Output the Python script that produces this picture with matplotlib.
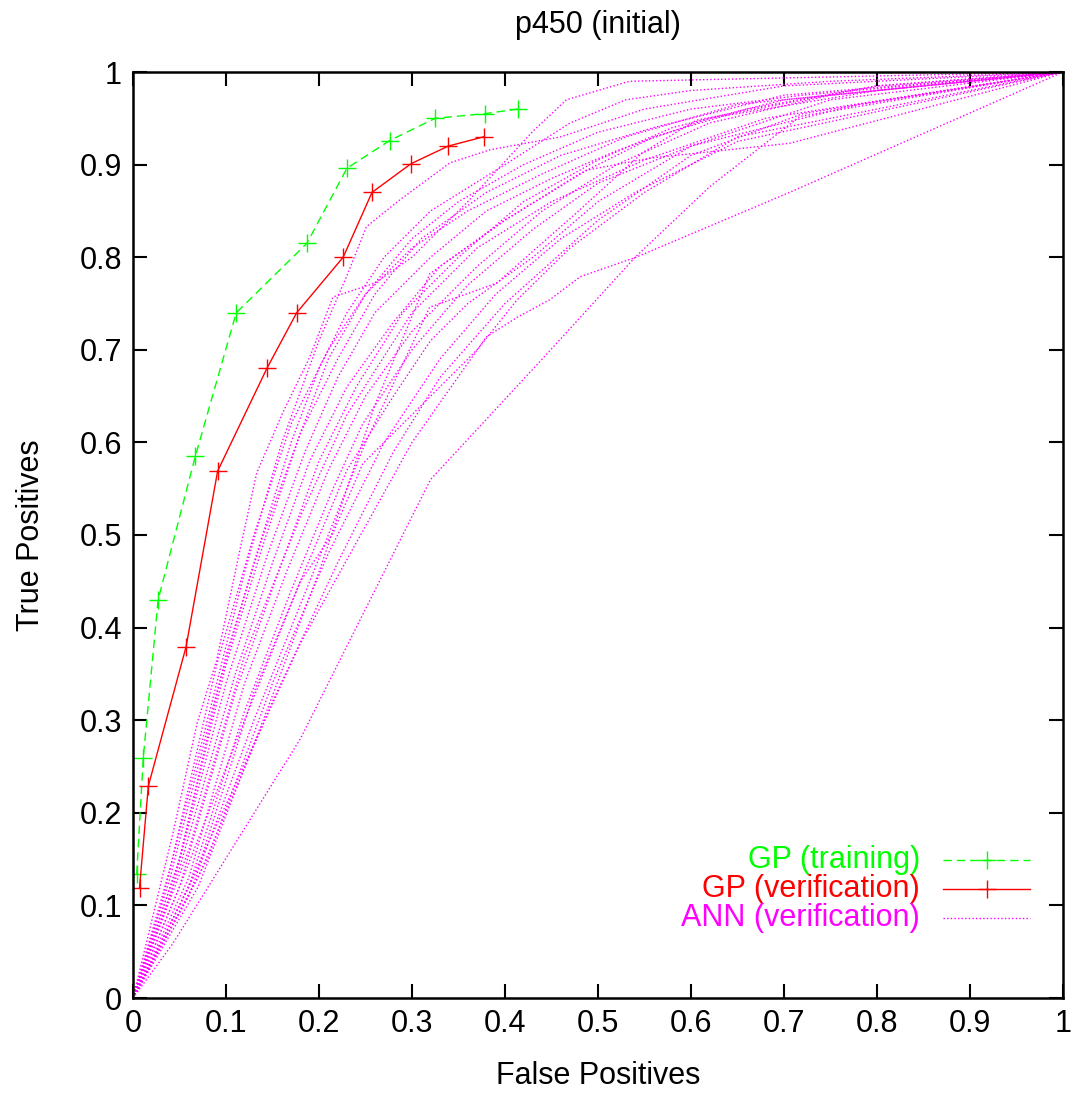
import matplotlib
matplotlib.use("Agg")
import matplotlib.pyplot as plt
from matplotlib.lines import Line2D

plt.rcParams['font.family'] = ['Liberation Sans', 'DejaVu Sans']

# GP curves
gp_train_fpr = [0.004, 0.011, 0.027, 0.067, 0.111, 0.187, 0.230, 0.276, 0.325, 0.378, 0.414]
gp_train_tpr = [0.134, 0.259, 0.430, 0.585, 0.740, 0.815, 0.896, 0.926, 0.950, 0.955, 0.960]
gp_ver_fpr = [0.007, 0.0165, 0.057, 0.091, 0.144, 0.176, 0.226, 0.257, 0.299, 0.339, 0.377]
gp_ver_tpr = [0.119, 0.229, 0.379, 0.569, 0.680, 0.740, 0.800, 0.870, 0.901, 0.920, 0.930]

# ANN verification curves (fpr, tpr)
ann_fpr = [
    [0, 0.043, 0.069, 0.09, 0.115, 0.133, 0.161, 0.19, 0.215, 0.26, 0.30, 0.36, 0.43, 0.466, 0.534, 1],
    [0, 0.03, 0.08, 0.12, 0.16, 0.20, 0.23, 0.251, 0.287, 0.341, 0.384, 0.46, 0.55, 0.70, 1],
    [0, 0.04, 0.09, 0.13, 0.17, 0.20, 0.23, 0.27, 0.32, 0.40, 0.47, 0.53, 0.60, 0.75, 1],
    [0, 0.05, 0.10, 0.14, 0.18, 0.21, 0.25, 0.30, 0.35, 0.42, 0.50, 0.60, 0.72, 1],
    [0, 0.04, 0.10, 0.145, 0.185, 0.22, 0.26, 0.32, 0.38, 0.45, 0.52, 0.62, 0.80, 1],
    [0, 0.05, 0.11, 0.15, 0.19, 0.23, 0.28, 0.33, 0.40, 0.48, 0.56, 0.66, 0.80, 1],
    [0, 0.05, 0.11, 0.16, 0.20, 0.24, 0.29, 0.35, 0.42, 0.50, 0.58, 0.70, 1],
    [0, 0.06, 0.12, 0.165, 0.21, 0.25, 0.30, 0.37, 0.44, 0.52, 0.62, 0.75, 1],
    [0, 0.06, 0.12, 0.17, 0.215, 0.247, 0.30, 0.36, 0.43, 0.50, 0.60, 0.78, 1],
    [0, 0.07, 0.13, 0.18, 0.23, 0.28, 0.32, 0.36, 0.43, 0.50, 0.60, 0.75, 1],
    [0, 0.06, 0.13, 0.19, 0.25, 0.319, 0.391, 0.477, 0.548, 0.606, 0.80, 1],
    [0, 0.07, 0.14, 0.20, 0.26, 0.319, 0.40, 0.488, 0.556, 0.706, 1],
    [0, 0.07, 0.15, 0.22, 0.28, 0.33, 0.40, 0.50, 0.60, 0.72, 1],
    [0, 0.05, 0.12, 0.18, 0.215, 0.247, 0.327, 0.37, 0.413, 0.47, 0.55, 0.65, 1],
    [0, 0.05, 0.18, 0.30, 0.38, 0.413, 0.448, 0.481, 0.541, 0.706, 1],
    [0, 0.043, 0.18, 0.32, 0.44, 0.54, 0.62, 0.717, 1],
    [0, 0.04, 0.09, 0.13, 0.17, 0.21, 0.25, 0.30, 0.36, 0.44, 0.53, 0.65, 1],
    [0, 0.05, 0.10, 0.14, 0.18, 0.22, 0.26, 0.31, 0.38, 0.46, 0.56, 0.70, 1],
    [0, 0.08, 0.15, 0.21, 0.27, 0.33, 0.39, 0.46, 0.54, 0.65, 1],
    [0, 0.06, 0.12, 0.18, 0.23, 0.30, 0.37, 0.45, 0.55, 0.68, 1],
]
ann_tpr = [
    [0, 0.178, 0.297, 0.365, 0.484, 0.567, 0.632, 0.692, 0.757, 0.772, 0.80, 0.86, 0.936, 0.97, 0.99, 1],
    [0, 0.10, 0.30, 0.46, 0.60, 0.71, 0.78, 0.833, 0.862, 0.902, 0.916, 0.93, 0.96, 0.985, 1],
    [0, 0.13, 0.33, 0.47, 0.60, 0.68, 0.74, 0.80, 0.85, 0.90, 0.945, 0.97, 0.98, 0.99, 1],
    [0, 0.15, 0.36, 0.49, 0.61, 0.69, 0.76, 0.82, 0.86, 0.90, 0.935, 0.96, 0.975, 1],
    [0, 0.11, 0.34, 0.48, 0.59, 0.67, 0.74, 0.80, 0.85, 0.885, 0.915, 0.95, 0.98, 1],
    [0, 0.14, 0.35, 0.47, 0.58, 0.66, 0.73, 0.79, 0.84, 0.89, 0.93, 0.96, 0.985, 1],
    [0, 0.12, 0.33, 0.47, 0.58, 0.66, 0.74, 0.80, 0.86, 0.905, 0.94, 0.97, 1],
    [0, 0.13, 0.34, 0.46, 0.57, 0.65, 0.72, 0.79, 0.85, 0.90, 0.945, 0.975, 1],
    [0, 0.12, 0.31, 0.44, 0.55, 0.62, 0.70, 0.77, 0.83, 0.88, 0.92, 0.965, 1],
    [0, 0.14, 0.33, 0.45, 0.57, 0.65, 0.71, 0.75, 0.80, 0.86, 0.92, 0.97, 1],
    [0, 0.11, 0.30, 0.45, 0.60, 0.746, 0.772, 0.848, 0.913, 0.948, 0.985, 1],
    [0, 0.12, 0.30, 0.46, 0.64, 0.782, 0.84, 0.894, 0.907, 0.923, 1],
    [0, 0.13, 0.32, 0.47, 0.59, 0.67, 0.75, 0.84, 0.91, 0.955, 1],
    [0, 0.12, 0.30, 0.45, 0.502, 0.577, 0.657, 0.70, 0.754, 0.81, 0.87, 0.93, 1],
    [0, 0.10, 0.383, 0.60, 0.714, 0.735, 0.754, 0.779, 0.80, 0.87, 1],
    [0, 0.059, 0.28, 0.56, 0.69, 0.80, 0.876, 0.952, 1],
    [0, 0.14, 0.36, 0.50, 0.62, 0.70, 0.76, 0.81, 0.85, 0.89, 0.93, 0.965, 1],
    [0, 0.15, 0.37, 0.50, 0.61, 0.69, 0.76, 0.82, 0.87, 0.91, 0.94, 0.975, 1],
    [0, 0.15, 0.34, 0.48, 0.60, 0.69, 0.76, 0.82, 0.87, 0.925, 1],
    [0, 0.16, 0.37, 0.52, 0.63, 0.74, 0.81, 0.86, 0.905, 0.95, 1],
]

ticks = [0, 0.1, 0.2, 0.3, 0.4, 0.5, 0.6, 0.7, 0.8, 0.9, 1]
tick_labels = ['0', '0.1', '0.2', '0.3', '0.4', '0.5', '0.6', '0.7', '0.8', '0.9', '1']

title = 'p450 (initial)'
xlabel = 'False Positives'
ylabel = 'True Positives'
legend_labels = ['GP (training)', 'GP (verification)', 'ANN (verification)']

GREEN = '#00ff00'
RED = '#ff0000'
MAG = '#ff00ff'
FS = 22

fig = plt.figure(figsize=(10.71, 10.94), dpi=100)
ax = fig.add_axes([133/1071, 1 - 998/1094, 930/1071, 926/1094])

dotted = (0, (1.0, 1.6))
dashed = (0, (6.0, 3.6))

for fx, ty in zip(ann_fpr, ann_tpr):
    ax.plot(fx, ty, color=MAG, lw=1.0, linestyle=dotted)

ax.plot(gp_train_fpr, gp_train_tpr, color=GREEN, lw=1.0, linestyle=dashed,
        marker='+', markersize=13, markeredgewidth=1.0)
ax.plot(gp_ver_fpr, gp_ver_tpr, color=RED, lw=1.0, linestyle='-',
        marker='+', markersize=13, markeredgewidth=1.0)

ax.set_xlim(0, 1)
ax.set_ylim(0, 1)
ax.set_xticks(ticks)
ax.set_xticklabels(tick_labels)
ax.set_yticks(ticks)
ax.set_yticklabels(tick_labels)
ax.tick_params(direction='in', length=10, width=1.5, top=True, right=True,
               labelsize=FS, pad=8, colors='black')
for s in ax.spines.values():
    s.set_linewidth(1.8)
    s.set_color('black')

ax.set_title(title, fontsize=FS, pad=28)
ax.set_xlabel(xlabel, fontsize=FS, labelpad=16)
ax.set_ylabel(ylabel, fontsize=FS, labelpad=24)

# key (legend) drawn gnuplot-style: right-justified text, sample to the right
key_rows_y = [(998 - 860) / 926, (998 - 889) / 926, (998 - 918) / 926]
text_x = (920 - 133) / 930
samp_x0 = (943 - 133) / 930
samp_x1 = (1030 - 133) / 930
styles = [dict(color=GREEN, linestyle=dashed, marker=True),
          dict(color=RED, linestyle='-', marker=True),
          dict(color=MAG, linestyle=dotted, marker=False)]
for lab, yk, st in zip(legend_labels, key_rows_y, styles):
    ax.text(text_x, yk, lab, transform=ax.transAxes, ha='right', va='center',
            fontsize=FS, color=st['color'])
    ax.add_line(Line2D([samp_x0, samp_x1], [yk, yk], transform=ax.transAxes,
                       color=st['color'], lw=1.0, linestyle=st['linestyle']))
    if st['marker']:
        ax.add_line(Line2D([(samp_x0 + samp_x1) / 2], [yk], transform=ax.transAxes,
                           color=st['color'], marker='+', markersize=13,
                           markeredgewidth=1.0, linestyle='none'))

fig.savefig('out.png', dpi=100, facecolor='white')
